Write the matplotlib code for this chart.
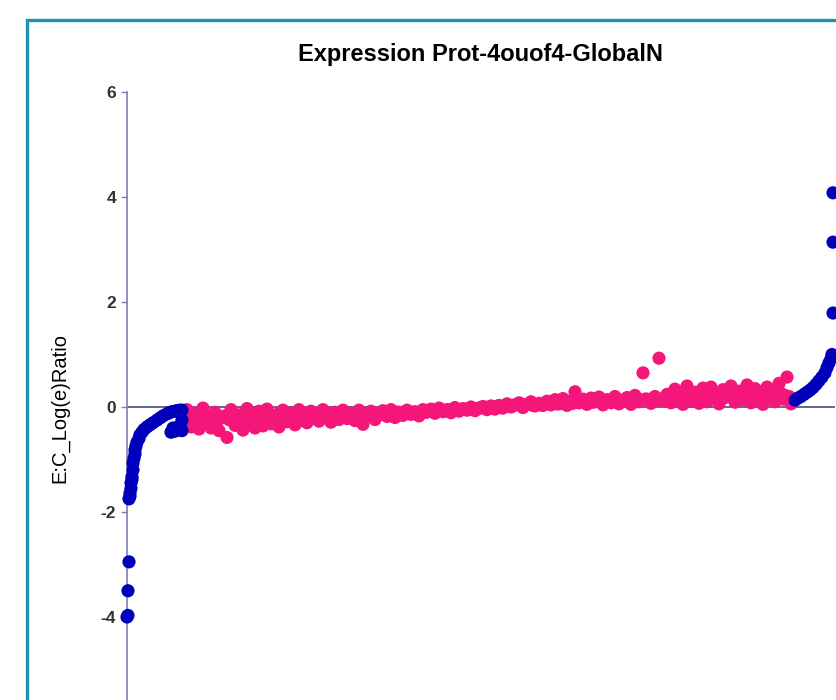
import numpy as np
import matplotlib.pyplot as plt
from matplotlib.patches import Rectangle

plt.rcParams['font.family'] = ['Liberation Sans', 'DejaVu Sans']
plt.rcParams['axes.unicode_minus'] = False

# left tail (blue), ordered by rank
left_rank = [0, 2, 2, 4, 4, 6, 6, 8, 8, 10, 10, 12, 12, 14, 16, 16, 18, 20, 24, 26,
             30, 34, 40, 46, 52, 60, 66, 72, 80, 84, 90, 96, 100, 106, 110,
             88, 92, 96, 102, 106, 110, 110]
left_val = [-4.0, -3.97, -3.5, -2.95, -1.75, -1.70, -1.64, -1.55, -1.45, -1.38, -1.33,
            -1.20, -1.07, -0.98, -0.90, -0.82, -0.74, -0.67, -0.60, -0.53,
            -0.48, -0.43, -0.38, -0.34, -0.30, -0.25, -0.21, -0.17, -0.13, -0.11,
            -0.09, -0.08, -0.07, -0.06, -0.06,
            -0.48, -0.40, -0.46, -0.44, -0.35, -0.25, -0.45]

# middle (pink), one value per rank step: outer spread ...
mid_val = [
    -0.05, -0.38, -0.12, -0.42, -0.02, -0.30, -0.40, -0.10, -0.45, -0.20,
    -0.58, -0.05, -0.35, -0.15, -0.44, -0.03, -0.30, -0.40, -0.08, -0.36,
    -0.04, -0.32, -0.22, -0.38, -0.06, -0.28, -0.12, -0.34, -0.05, -0.26,
    -0.30, -0.08, -0.22, -0.27, -0.05, -0.20, -0.29, -0.10, -0.24, -0.06,
    -0.22, -0.12, -0.26, -0.06, -0.33, -0.18, -0.08, -0.24, -0.15, -0.07,
    -0.18, -0.05, -0.20, -0.10, -0.16, -0.06, -0.14, -0.09, -0.17, -0.05,
    -0.10, -0.04, -0.12, -0.02, -0.09, -0.05, -0.11, -0.01, -0.08, -0.03,
    -0.06, 0.00, -0.07, -0.02, 0.01, -0.05, 0.02, -0.04, 0.03, -0.02,
    0.06, 0.00, 0.04, 0.08, -0.01, 0.05, 0.10, 0.02, 0.07, 0.03,
    0.11, 0.04, 0.14, 0.06, 0.16, 0.03, 0.12, 0.29, 0.08, 0.15,
    0.05, 0.17, 0.10, 0.19, 0.04, 0.14, 0.08, 0.20, 0.06, 0.13,
    0.18, 0.05, 0.22, 0.10, 0.65, 0.15, 0.07, 0.20, 0.93, 0.12,
    0.24, 0.08, 0.34, 0.15, 0.05, 0.40, 0.12, 0.28, 0.07, 0.36,
    0.10, 0.38, 0.18, 0.06, 0.33, 0.22, 0.40, 0.09, 0.30, 0.14,
    0.42, 0.08, 0.35, 0.20, 0.05, 0.38, 0.26, 0.10, 0.45, 0.15,
    0.57, 0.06,
]
# ... and the ranks in between, near the middle of the band
mid_val_b = [
    -0.22, -0.18, -0.25, -0.20, -0.15, -0.22, -0.19, -0.26, -0.21, -0.17,
    -0.24, -0.20, -0.18, -0.27, -0.22, -0.16, -0.21, -0.19, -0.25, -0.18,
    -0.17, -0.20, -0.14, -0.19, -0.16, -0.21, -0.15, -0.18, -0.20, -0.14,
    -0.16, -0.18, -0.13, -0.15, -0.17, -0.12, -0.16, -0.18, -0.14, -0.15,
    -0.14, -0.16, -0.12, -0.17, -0.13, -0.15, -0.11, -0.14, -0.12, -0.13,
    -0.11, -0.12, -0.10, -0.13, -0.09, -0.11, -0.10, -0.12, -0.09, -0.10,
    -0.07, -0.06, -0.08, -0.05, -0.07, -0.06, -0.04, -0.06, -0.05, -0.04,
    -0.03, -0.02, -0.04, -0.01, -0.03, 0.00, -0.02, 0.01, -0.01, 0.02,
    0.02, 0.03, 0.05, 0.02, 0.04, 0.06, 0.03, 0.05, 0.04, 0.06,
    0.07, 0.08, 0.06, 0.09, 0.08, 0.10, 0.07, 0.09, 0.11, 0.08,
    0.10, 0.09, 0.12, 0.11, 0.10, 0.13, 0.11, 0.12, 0.10, 0.13,
    0.12, 0.14, 0.11, 0.13, 0.15, 0.12, 0.14, 0.13, 0.15, 0.14,
    0.16, 0.20, 0.18, 0.22, 0.17, 0.21, 0.19, 0.24, 0.18, 0.20,
    0.22, 0.19, 0.25, 0.21, 0.18, 0.24, 0.20, 0.26, 0.19, 0.23,
    0.21, 0.25, 0.18, 0.27, 0.22, 0.20, 0.24, 0.19, 0.26, 0.22,
    0.20, 0.15,
]
mid_start = 120
mid_step = 8

# right tail (blue)
right_rank = [1336, 1342, 1348, 1354, 1360, 1366, 1372, 1378, 1384, 1390, 1396,
              1400, 1404, 1408, 1410, 1412, 1412, 1412]
right_val = [0.13, 0.17, 0.20, 0.24, 0.28, 0.32, 0.37, 0.43, 0.50, 0.57, 0.65,
             0.75, 0.84, 0.92, 1.00, 1.79, 3.14, 4.08]

yticks = [-4, -2, 0, 2, 4, 6]

blue = '#0000bb'
pink = '#f5167a'
axis_col = '#7b7fb8'

W, H = 836, 700
fig = plt.figure(figsize=(W / 100, H / 100), dpi=100)
ax = fig.add_axes([127 / W, -22 / H, 708 / W, 630 / H])

mid_rank = mid_start + mid_step * np.arange(len(mid_val))
mid_rank_b = mid_start + mid_step // 2 + mid_step * np.arange(len(mid_val_b))

ms = 90
ax.axhline(0, color='#3c3c78', lw=1.1, zorder=1)
ax.scatter(mid_rank_b, mid_val_b, s=ms, color=pink, edgecolors='none', zorder=2, clip_on=False)
ax.scatter(mid_rank, mid_val, s=ms, color=pink, edgecolors='none', zorder=2, clip_on=False)
ax.scatter(left_rank, left_val, s=ms, color=blue, edgecolors='none', zorder=3, clip_on=False)
ax.scatter(right_rank, right_val, s=ms, color=blue, edgecolors='none', zorder=3, clip_on=False)

ax.set_xlim(0, 1416)
ax.set_ylim(-6, 6)
ax.set_yticks(yticks)
ax.set_xticks([])
for s in ['top', 'right', 'bottom']:
    ax.spines[s].set_visible(False)
ax.spines['left'].set_color(axis_col)
ax.spines['left'].set_linewidth(1.2)
ax.tick_params(axis='y', direction='out', length=4, width=1, color=axis_col,
               labelsize=12.5, labelcolor='#333333', pad=4)
for lab in ax.get_yticklabels():
    lab.set_fontweight('bold')

fig.text(481 / W, 1 - 55 / H, 'Expression Prot-4ouof4-GlobalN', ha='center', va='center',
         fontsize=17, fontweight='bold')
fig.text(60 / W, 1 - 408 / H, 'E:C_Log(e)Ratio', rotation=90, ha='center', va='center',
         fontsize=14.5)

# outer frame
fig.patches.append(Rectangle((27 / W, -0.1), 2.0, 1 - 20 / H + 0.1, transform=fig.transFigure,
                             fill=False, edgecolor='#2191b3', lw=2.4))

fig.savefig('out.png', dpi=100)
